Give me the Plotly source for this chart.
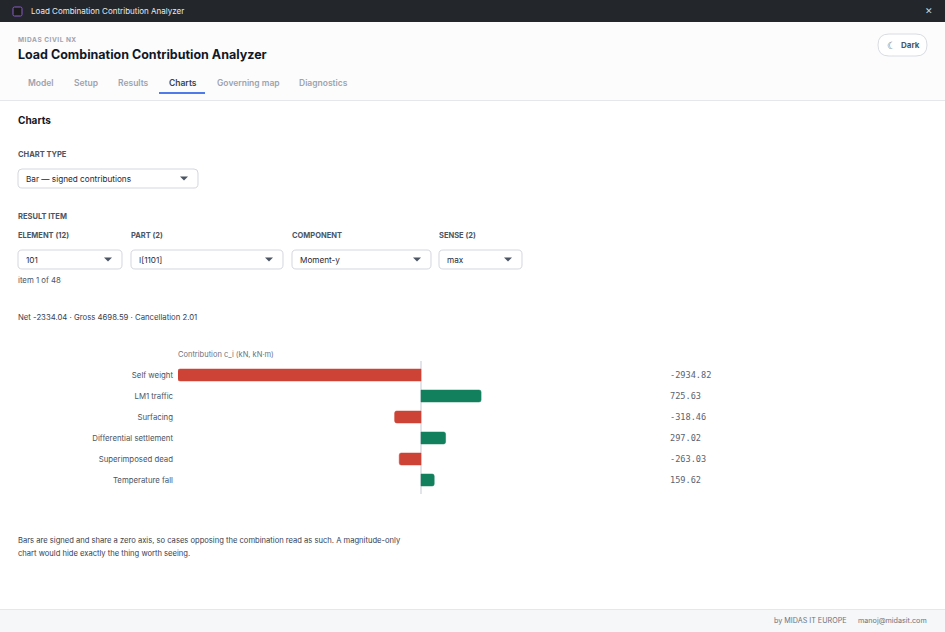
import plotly.graph_objects as go

W, H = 945, 632
FONT = "Inter"
MONO = "DejaVu Sans Mono"

# data
load_cases = ["Self weight", "LM1 traffic", "Surfacing", "Differential settlement",
              "Superimposed dead", "Temperature fall"]
contributions = [-2934.82, 725.63, -318.46, 297.02, -263.03, 159.62]
value_labels = ["-2934.82", "725.63", "-318.46", "297.02", "-263.03", "159.62"]

tabs = ["Model", "Setup", "Results", "Charts", "Governing map", "Diagnostics"]
tab_x = [28, 74, 118, 169, 217, 299]
active_tab = "Charts"

field_labels = ["ELEMENT (12)", "PART (2)", "COMPONENT", "SENSE (2)"]
field_values = ["101", "I[1101]", "Moment-y", "max"]
field_boxes = [(18, 122), (131, 283), (292, 431), (439, 522)]

RED = "#cd4335"
GREEN = "#13805d"


def px(x):
    return x / W


def py(y):
    return 1 - y / H


annotations = []
shapes = []


def text(x, y, s, size=9, color="#374151", weight=400, anchor="left", family=FONT):
    # annotations carry a small built-in pad, shift it back out
    shift = {"left": -2, "right": 2, "center": 0}[anchor]
    annotations.append(dict(
        x=px(x), y=py(y), xref="paper", yref="paper", text=s, showarrow=False,
        xanchor=anchor, yanchor="middle", xshift=shift,
        font=dict(family=family, size=size, color=color, weight=weight)))


def rect(x0, y0, x1, y1, fill, line=None, lw=0):
    shapes.append(dict(type="rect", xref="paper", yref="paper",
                       x0=px(x0), x1=px(x1), y0=py(y1), y1=py(y0),
                       fillcolor=fill, line=dict(color=line or fill, width=lw), layer="below"))


def rrect(x0, y0, x1, y1, r, fill, line, lw=1):
    pts = [
        ("M", [(x0 + r, y0)]), ("L", [(x1 - r, y0)]), ("Q", [(x1, y0), (x1, y0 + r)]),
        ("L", [(x1, y1 - r)]), ("Q", [(x1, y1), (x1 - r, y1)]),
        ("L", [(x0 + r, y1)]), ("Q", [(x0, y1), (x0, y1 - r)]),
        ("L", [(x0, y0 + r)]), ("Q", [(x0, y0), (x0 + r, y0)]),
    ]
    path = ""
    for cmd, coords in pts:
        path += cmd + " " + " ".join(f"{px(a):.5f},{py(b):.5f}" for a, b in coords) + " "
    shapes.append(dict(type="path", xref="paper", yref="paper", path=path + "Z",
                       fillcolor=fill, line=dict(color=line, width=lw), layer="below"))


def caret(cx, cy, color="#4b5563"):
    path = f"M {px(cx - 4):.5f},{py(cy - 2):.5f} L {px(cx + 4):.5f},{py(cy - 2):.5f} L {px(cx):.5f},{py(cy + 2):.5f} Z"
    shapes.append(dict(type="path", xref="paper", yref="paper", path=path,
                       fillcolor=color, line=dict(width=0)))


def dropdown(x0, x1, y0, y1, label):
    rrect(x0, y0, x1, y1, 4, "#ffffff", "#d4d7de", 1)
    text(x0 + 8, (y0 + y1) / 2, label, size=8.2, color="#1f2937")
    caret(x1 - 14, (y0 + y1) / 2)


# window chrome
rect(0, 0, W, 22, "#23262b")
rrect(13, 7, 22, 16, 1.5, "#1a1a1a", "#8a5cc8", 1)
text(31, 11, "Load Combination Contribution Analyzer", size=8, color="#e8eaed")
text(929, 11, "✕", size=9, color="#d1d5db", anchor="center")

# header
rect(0, 22, W, 100, "#fcfcfd")
rect(0, 100, W, 101, "#e5e7eb")
text(18, 40, "\u200a".join("MIDAS CIVIL NX"), size=6.5, color="#9ca3af", weight=700)
text(18, 54, "Load Combination Contribution Analyzer", size=12.5, color="#111827", weight=700)
for name, x in zip(tabs, tab_x):
    active = name == active_tab
    text(x, 83, name, size=8.5, color="#374151" if active else "#9ca3af", weight=600)
rect(159, 92, 205, 94, "#4f7be8")

rrect(878, 34, 927, 56, 11, "#ffffff", "#d9dce2", 1)
text(891, 45, "☾", size=10, color="#4b5563", anchor="center")
text(901, 45, "Dark", size=8, color="#4b5563", weight=700)

# controls
text(18, 120, "Charts", size=10, color="#111827", weight=700)
text(18, 155, "CHART TYPE", size=7.5, color="#4b5563", weight=700)
dropdown(18, 198, 169, 188, "Bar — signed contributions")
text(18, 216, "RESULT ITEM", size=7.5, color="#4b5563", weight=700)
for lab, val, (x0, x1) in zip(field_labels, field_values, field_boxes):
    text(x0, 235, lab, size=7.5, color="#4b5563", weight=700)
    dropdown(x0, x1, 250, 269, val)
text(18, 280, "item 1 of 48", size=7.8, color="#4b5563")
text(18, 317, "Net -2334.04 · Gross 4698.59 · Cancellation 2.01", size=7.75, color="#374151")

# chart
text(178, 354, "Contribution c_i (kN, kN·m)", size=7.5, color="#6b7280")
for cat, lab in zip(load_cases, value_labels):
    annotations.append(dict(x=px(670), y=cat, xref="paper", yref="y", text=lab,
                            showarrow=False, xanchor="left", yanchor="middle", xshift=-2,
                            font=dict(family=MONO, size=8.6, color="#5b6270")))

# note and footer
text(18, 540, "Bars are signed and share a zero axis, so cases opposing the combination read as such. A magnitude-only",
     size=7.6, color="#374151")
text(18, 553, "chart would hide exactly the thing worth seeing.", size=7.6, color="#374151")
rect(0, 609, W, H, "#f6f7f9")
rect(0, 609, W, 610, "#e5e7eb")
text(847, 620, "by MIDAS IT EUROPE", size=7.2, color="#6b7280", anchor="right")
text(927, 620, "manoj@midasit.com", size=7.2, color="#6b7280", anchor="right")

colors = [RED if v < 0 else GREEN for v in contributions]
fig = go.Figure(go.Bar(
    x=contributions, y=load_cases, orientation="h",
    marker=dict(color=colors, line=dict(color=colors, width=0.5), cornerradius=2),
    width=0.57, hoverinfo="x+y",
))

lim = max(abs(v) for v in contributions)
fig.update_layout(
    width=W, height=H,
    margin=dict(l=0, r=0, t=0, b=0),
    paper_bgcolor="#ffffff", plot_bgcolor="rgba(0,0,0,0)",
    showlegend=False,
    font=dict(family=FONT),
    xaxis=dict(domain=[px(178), px(664)], range=[-lim, lim], showticklabels=False,
               showgrid=False, zeroline=True, zerolinecolor="#e2e4e9", zerolinewidth=2,
               fixedrange=True),
    yaxis=dict(domain=[py(494), py(361)], categoryorder="array", categoryarray=load_cases,
               range=[5.667, -0.667], showgrid=False, zeroline=False, ticks="",
               ticklabelstandoff=4, tickfont=dict(family=FONT, size=7.8, color="#4b5563"),
               fixedrange=True),
    annotations=annotations,
    shapes=shapes,
)

fig.write_html("out.html", config={"displayModeBar": False},
               post_script="document.body.style.margin='0';")
